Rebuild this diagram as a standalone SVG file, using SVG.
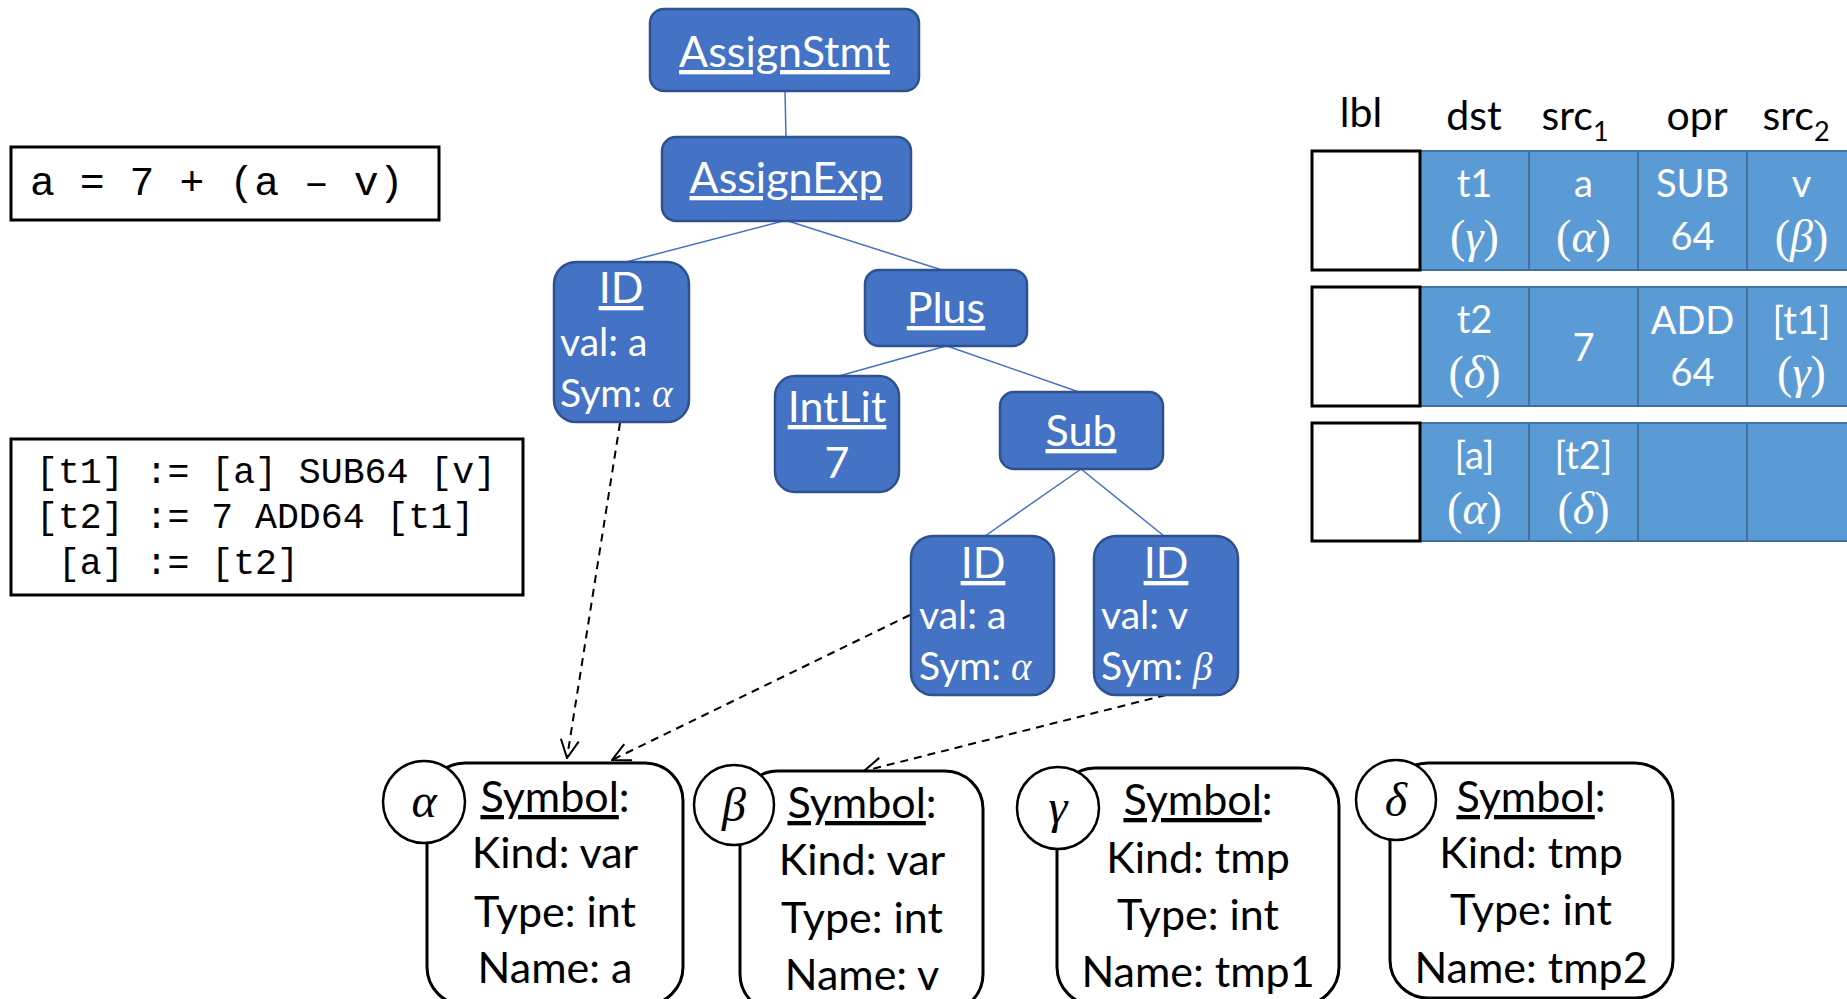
<svg xmlns="http://www.w3.org/2000/svg" width="1847" height="999" viewBox="0 0 1847 999">
<style>
.bg{fill:#fff}
.node{fill:#4472C4;stroke:#2F528F;stroke-width:2.5}
.w{fill:#fff;font-family:Lato,'Open Sans',sans-serif}
.t{font-size:43px;text-anchor:middle;text-decoration:underline}
.b{font-size:39px}
.m{text-anchor:middle}
.gk{font-family:'Liberation Serif',serif;font-style:italic}
.edge{stroke:#4472C4;stroke-width:1.5;fill:none}
.dash{stroke:#000;stroke-width:2;stroke-dasharray:8 6;fill:none}
.box{fill:#fff;stroke:#000;stroke-width:3}
.code{font-family:'Liberation Mono',monospace;fill:#000}
.srect{fill:#fff;stroke:#000;stroke-width:3}
.scirc{fill:#fff;stroke:#000;stroke-width:2.5}
.st{font-family:Lato,'Open Sans',sans-serif;font-size:43px;fill:#000;text-anchor:middle}
.hd{font-family:Lato,'Open Sans',sans-serif;font-size:41px;fill:#000;text-anchor:middle}
.cell{fill:#5B9BD5;stroke:#41719C;stroke-width:2}
.lbl{fill:#fff;stroke:#000;stroke-width:3}
.ct{font-family:Lato,'Open Sans',sans-serif;font-size:38px;fill:#fff;text-anchor:middle}
.cg{font-family:'Liberation Serif',serif;font-size:46px;fill:#fff;text-anchor:middle}
</style>
<defs>
<marker id="arr" viewBox="0 0 20 20" refX="19" refY="10" markerWidth="20" markerHeight="20" markerUnits="userSpaceOnUse" orient="auto">
<path d="M1,1 L19,10 L1,19" fill="none" stroke="#000" stroke-width="2" stroke-dasharray="none"/>
</marker>
</defs>
<rect class="bg" x="0" y="0" width="1847" height="999"/>

<g id="code1">
<rect class="box" x="11" y="147" width="428" height="73"/>
<text class="code" x="30" y="195" font-size="41.5">a = 7 + (a – v)</text>
</g>
<g id="code2">
<rect class="box" x="11" y="439" width="512" height="156"/>
<text class="code" font-size="36.5" xml:space="preserve"><tspan x="36" y="483">[t1] := [a] SUB64 [v]</tspan><tspan x="36" y="528">[t2] := 7 ADD64 [t1]</tspan><tspan x="36" y="574"> [a] := [t2]</tspan></text>
</g>

<g id="connectors">
<line class="edge" x1="785" y1="91" x2="786" y2="137"/>
<line class="edge" x1="783" y1="221" x2="626" y2="262"/>
<line class="edge" x1="788" y1="221" x2="942" y2="270"/>
<line class="edge" x1="946" y1="346" x2="839" y2="376"/>
<line class="edge" x1="947" y1="346" x2="1079" y2="392"/>
<line class="edge" x1="1081" y1="469" x2="985" y2="536"/>
<line class="edge" x1="1081" y1="469" x2="1164" y2="536"/>
<line class="dash" x1="620" y1="423" x2="567" y2="758" marker-end="url(#arr)"/>
<line class="dash" x1="910" y1="615" x2="612" y2="760" marker-end="url(#arr)"/>
<line class="dash" x1="1166" y1="695" x2="864" y2="771" marker-end="url(#arr)"/>
</g>

<g id="assignstmt">
<rect class="node" x="650" y="9" width="269" height="82" rx="14"/>
<text class="w t" x="784.5" y="67">AssignStmt</text>
</g>
<g id="assignexp">
<rect class="node" x="662" y="137" width="249" height="84" rx="14"/>
<text class="w t" x="786" y="193">AssignExp</text>
</g>
<g id="id1">
<rect class="node" x="554" y="262" width="135" height="160" rx="22"/>
<text class="w t" x="621" y="303">ID</text>
<text class="w b" x="560" y="356">val: a</text>
<text class="w b" x="560" y="407">Sym: <tspan class="gk">α</tspan></text>
</g>
<g id="plus">
<rect class="node" x="865" y="270" width="162" height="76" rx="14"/>
<text class="w t" x="946" y="323">Plus</text>
</g>
<g id="intlit">
<rect class="node" x="775" y="376" width="124" height="116" rx="20"/>
<text class="w t" x="837" y="422">IntLit</text>
<text class="w m" x="837" y="478" font-size="43">7</text>
</g>
<g id="sub">
<rect class="node" x="1000" y="392" width="163" height="77" rx="14"/>
<text class="w t" x="1081" y="446">Sub</text>
</g>
<g id="id2">
<rect class="node" x="911" y="536" width="143" height="159" rx="22"/>
<text class="w t" x="983" y="578">ID</text>
<text class="w b" x="919" y="629">val: a</text>
<text class="w b" x="919" y="680">Sym: <tspan class="gk">α</tspan></text>
</g>
<g id="id3">
<rect class="node" x="1094" y="536" width="144" height="159" rx="22"/>
<text class="w t" x="1166" y="578">ID</text>
<text class="w b" x="1101" y="629">val: v</text>
<text class="w b" x="1101" y="680">Sym: <tspan class="gk">β</tspan></text>
</g>

<g id="sym-alpha">
<rect class="srect" x="427" y="763" width="256" height="242" rx="38"/>
<circle class="scirc" cx="424" cy="802" r="41"/>
<text class="gk" x="424" y="817" font-size="48" text-anchor="middle">α</text>
<text class="st" x="555" y="812"><tspan text-decoration="underline">Symbol</tspan>:</text>
<text class="st" x="555" y="868">Kind: var</text>
<text class="st" x="555" y="927">Type: int</text>
<text class="st" x="555" y="983">Name: a</text>
</g>
<g id="sym-beta">
<rect class="srect" x="740" y="771" width="243" height="241" rx="38"/>
<circle class="scirc" cx="734" cy="805" r="40"/>
<text class="gk" x="734" y="821" font-size="48" text-anchor="middle">β</text>
<text class="st" x="862" y="818"><tspan text-decoration="underline">Symbol</tspan>:</text>
<text class="st" x="862" y="875">Kind: var</text>
<text class="st" x="862" y="933">Type: int</text>
<text class="st" x="862" y="990">Name: v</text>
</g>
<g id="sym-gamma">
<rect class="srect" x="1057" y="768" width="282" height="237" rx="38"/>
<circle class="scirc" cx="1058" cy="808" r="41"/>
<text class="gk" x="1058" y="823" font-size="48" text-anchor="middle">γ</text>
<text class="st" x="1198" y="815"><tspan text-decoration="underline">Symbol</tspan>:</text>
<text class="st" x="1198" y="873">Kind: tmp</text>
<text class="st" x="1198" y="930">Type: int</text>
<text class="st" x="1198" y="987">Name: tmp1</text>
</g>
<g id="sym-delta">
<rect class="srect" x="1390" y="763" width="283" height="235" rx="38"/>
<circle class="scirc" cx="1396" cy="800" r="40"/>
<text class="gk" x="1396" y="816" font-size="48" text-anchor="middle">δ</text>
<text class="st" x="1531" y="812"><tspan text-decoration="underline">Symbol</tspan>:</text>
<text class="st" x="1531" y="868">Kind: tmp</text>
<text class="st" x="1531" y="925">Type: int</text>
<text class="st" x="1531" y="983">Name: tmp2</text>
</g>

<g id="table-header">
<text class="hd" x="1361" y="127">lbl</text>
<text class="hd" x="1474" y="130">dst</text>
<text class="hd" x="1575" y="130">src<tspan font-size="27" dy="11">1</tspan></text>
<text class="hd" x="1697" y="130">opr</text>
<text class="hd" x="1796" y="130">src<tspan font-size="27" dy="11">2</tspan></text>
</g>
<g id="row1">
<rect class="cell" x="1420" y="151" width="109" height="119"/>
<rect class="cell" x="1529" y="151" width="109" height="119"/>
<rect class="cell" x="1638" y="151" width="109" height="119"/>
<rect class="cell" x="1747" y="151" width="109" height="119"/>
<rect class="lbl" x="1312" y="151" width="108" height="119"/>
<text class="ct" x="1474.5" y="197">t1</text>
<text class="cg" x="1474.5" y="252">(<tspan font-style="italic">γ</tspan>)</text>
<text class="ct" x="1583.5" y="197">a</text>
<text class="cg" x="1583.5" y="252">(<tspan font-style="italic">α</tspan>)</text>
<text class="ct" x="1692.5" y="197">SUB</text>
<text class="ct" x="1692.5" y="250">64</text>
<text class="ct" x="1801.5" y="197">v</text>
<text class="cg" x="1801.5" y="252">(<tspan font-style="italic">β</tspan>)</text>
</g>
<g id="row2">
<rect class="cell" x="1420" y="287" width="109" height="119"/>
<rect class="cell" x="1529" y="287" width="109" height="119"/>
<rect class="cell" x="1638" y="287" width="109" height="119"/>
<rect class="cell" x="1747" y="287" width="109" height="119"/>
<rect class="lbl" x="1312" y="287" width="108" height="119"/>
<text class="ct" x="1474.5" y="333">t2</text>
<text class="cg" x="1474.5" y="388">(<tspan font-style="italic">δ</tspan>)</text>
<text class="ct" x="1583.5" y="361">7</text>
<text class="ct" x="1692.5" y="334">ADD</text>
<text class="ct" x="1692.5" y="386">64</text>
<text class="ct" x="1801.5" y="334">[t1]</text>
<text class="cg" x="1801.5" y="388">(<tspan font-style="italic">γ</tspan>)</text>
</g>
<g id="row3">
<rect class="cell" x="1420" y="423" width="109" height="118"/>
<rect class="cell" x="1529" y="423" width="109" height="118"/>
<rect class="cell" x="1638" y="423" width="109" height="118"/>
<rect class="cell" x="1747" y="423" width="109" height="118"/>
<rect class="lbl" x="1312" y="423" width="108" height="118"/>
<text class="ct" x="1474.5" y="469">[a]</text>
<text class="cg" x="1474.5" y="524">(<tspan font-style="italic">α</tspan>)</text>
<text class="ct" x="1583.5" y="469">[t2]</text>
<text class="cg" x="1583.5" y="524">(<tspan font-style="italic">δ</tspan>)</text>
</g>
</svg>
